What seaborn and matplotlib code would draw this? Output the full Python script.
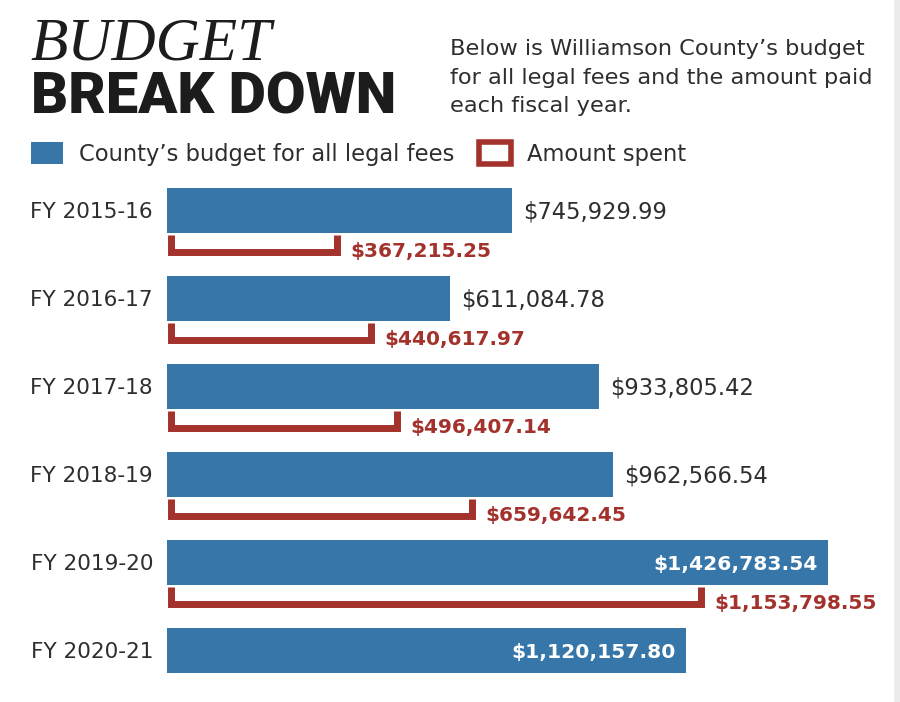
import matplotlib
matplotlib.use("Agg")
import matplotlib.pyplot as plt
import seaborn as sns
import pandas as pd
from matplotlib.patches import Patch, Rectangle

# values
years = ["FY 2015-16", "FY 2016-17", "FY 2017-18", "FY 2018-19", "FY 2019-20", "FY 2020-21"]
budget = [745929.99, 611084.78, 933805.42, 962566.54, 1426783.54, 1120157.80]
spent = [367215.25, 440617.97, 496407.14, 659642.45, 1153798.55, None]

blue = "#3676a8"
red = "#a3322c"
dark = "#2e2e2e"

sns.set_theme(style="white")
plt.rcParams["font.family"] = ["DejaVu Sans"]

df = pd.DataFrame({"year": years, "budget": budget})

fig = plt.figure(figsize=(9, 7.02), dpi=100)
fig.patch.set_facecolor("white")
# plot area: x from 167px to right edge, y from 170px to 700px
ax = fig.add_axes([167 / 900, 2 / 702, 733 / 900, 530 / 702])

sns.barplot(data=df, x="budget", y="year", orient="h", color=blue,
            saturation=1, width=0.51, linewidth=0, ax=ax)

px_per_dollar = 4.63e-4
ax.set_xlim(0, 733 / px_per_dollar)
ax.set_ylim(5.5625, -0.46)
dollars_per_px = 1 / px_per_dollar
row_px = 88.0

# brackets for the amount spent
for i, s in enumerate(spent):
    if s is None:
        continue
    top = i + 25 / row_px
    bot = i + 42 / row_px
    x0 = 3.5 * dollars_per_px
    ax.plot([x0, x0, s, s], [top, bot, bot, top], color=red, lw=5,
            solid_joinstyle="miter", solid_capstyle="butt", clip_on=False)
    ax.annotate(f"${s:,.2f}", xy=(s, i + 41 / row_px), xytext=(9.5, 0),
                textcoords="offset points", ha="left", va="center",
                color=red, fontsize=14.5, fontweight="bold")

# budget value labels
for i, b in enumerate(budget):
    if b >= 1e6:
        ax.annotate(f"${b:,.2f}", xy=(b, i + 2 / row_px), xytext=(-7, 0),
                    textcoords="offset points", ha="right", va="center",
                    color="white", fontsize=14.6, fontweight="bold")
    else:
        ax.annotate(f"${b:,.2f}", xy=(b, i + 2 / row_px), xytext=(8, 0),
                    textcoords="offset points", ha="left", va="center",
                    color=dark, fontsize=16.3)

ax.set_xlabel("")
ax.set_ylabel("")
ax.set_xticks([])
ax.tick_params(axis="y", length=0, pad=10, labelsize=15.6, labelcolor=dark)
sns.despine(ax=ax, left=True, bottom=True)

# title
fig.text(30 / 900, 1 - 60 / 702, "BUDGET", family="Liberation Serif",
         style="italic", fontsize=44, color="#1c1c1c", va="baseline")
fig.text(31 / 900, 1 - 113 / 702, "BREAK DOWN", family="Roboto",
         fontweight="black", fontsize=41.5, color="#1c1c1c", va="baseline")

# intro text
intro = ["Below is Williamson County\u2019s budget",
         "for all legal fees and the amount paid",
         "each fiscal year."]
for k, line in enumerate(intro):
    fig.text(450 / 900, 1 - (55 + 28.5 * k) / 702, line, fontsize=16.2,
             color=dark, va="baseline")

# legend
handles = [Patch(facecolor=blue, edgecolor="none"),
           Patch(facecolor="white", edgecolor=red, linewidth=4)]
labels = ["County\u2019s budget for all legal fees", "Amount spent"]
fig.legend(handles, labels, loc="center left", bbox_to_anchor=(31 / 900, 1 - 154 / 702),
           ncol=2, frameon=False, fontsize=16.3, labelcolor=dark,
           handlelength=1.42, handleheight=1.1, handletextpad=0.72,
           columnspacing=1.05, borderpad=0, borderaxespad=0)

# faint page edge on the right
fig.add_artist(Rectangle((894 / 900, 0), 6 / 900, 1, transform=fig.transFigure,
                         color="#ebebeb", lw=0))

fig.savefig("out.png", dpi=100)
